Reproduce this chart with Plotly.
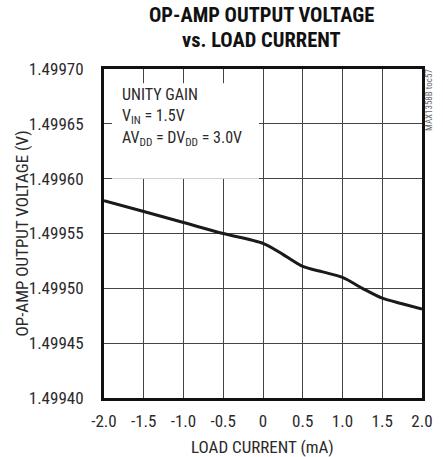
import plotly.graph_objects as go

# Load current sweep (mA) and measured op-amp output (V)
load_current = [-2.0, -1.5, -1.0, -0.5, 0.0, 0.25, 0.5, 0.75, 1.0, 1.25, 1.5, 1.75, 2.0]
output_voltage = [1.499580, 1.499570, 1.499560, 1.499550, 1.499541, 1.499531,
                  1.499520, 1.499515, 1.499510, 1.499500, 1.499491, 1.499486, 1.499481]

x_ticks = [-2.0, -1.5, -1.0, -0.5, 0.0, 0.5, 1.0, 1.5, 2.0]
x_tick_labels = ["-2.0", "-1.5", "-1.0", "-0.5", "0", "0.5", "1.0", "1.5", "2.0"]
y_ticks = [1.49940, 1.49945, 1.49950, 1.49955, 1.49960, 1.49965, 1.49970]
y_tick_labels = ["1.49940", "1.49945", "1.49950", "1.49955", "1.49960", "1.49965", "1.49970"]

FONT = "Liberation Sans Narrow, Roboto Condensed, Arial Narrow, sans-serif"
TXT = "#2a2a2a"

fig = go.Figure()
fig.add_trace(go.Scatter(
    x=load_current, y=output_voltage, mode="lines",
    line=dict(color="#1a1a1a", width=3, shape="spline", smoothing=0.8),
    hoverinfo="skip", showlegend=False,
))

# White panel behind the conditions text
fig.add_shape(type="rect", xref="x", yref="y", x0=-1.9, x1=-0.05,
              y0=1.499600, y1=1.499687, fillcolor="white", line_width=0, layer="above")

conditions = ["UNITY GAIN", "V<sub>IN</sub> = 1.5V",
              "AV<sub>DD</sub> = DV<sub>DD</sub> = 3.0V"]
for i, line in enumerate(conditions):
    fig.add_annotation(
        xref="paper", yref="paper", x=0.0, y=1.0, xanchor="left", yanchor="middle",
        xshift=16, yshift=-(25 + 22 * i), align="left", showarrow=False,
        text=line, font=dict(family=FONT, size=16, color=TXT),
    )

fig.add_annotation(
    xref="paper", yref="paper", x=1.0, y=1.0, xanchor="center", yanchor="top",
    xshift=7, yshift=2, showarrow=False, textangle=-90,
    text="MAX1358B toc57", font=dict(family=FONT, size=9, color="#666"),
)

# Two-line bold title
for txt, shift in [("OP-AMP OUTPUT VOLTAGE", 54), ("vs. LOAD CURRENT", 29)]:
    fig.add_annotation(
        xref="paper", yref="paper", x=(267 - 104) / 329, y=1.0,
        xanchor="center", yanchor="middle", yshift=shift, showarrow=False,
        text=f"<b>{txt}</b>", font=dict(family=FONT, size=20.5, color="#111"),
    )

# Axis titles
fig.add_annotation(
    xref="paper", yref="paper", x=(268 - 104) / 329, y=0.0,
    xanchor="center", yanchor="middle", yshift=-49, showarrow=False,
    text="LOAD CURRENT (mA)", font=dict(family=FONT, size=17, color=TXT),
)
fig.add_annotation(
    xref="paper", yref="paper", x=0.0, y=0.5, xanchor="center", yanchor="middle",
    xshift=-(104 - 21), showarrow=False, textangle=-90,
    text="OP-AMP OUTPUT VOLTAGE (V)", font=dict(family=FONT, size=17, color=TXT),
)

fig.update_layout(
    width=443, height=457,
    margin=dict(l=104, r=10, t=69, b=59),
    paper_bgcolor="white", plot_bgcolor="white",
    font=dict(family=FONT, size=17, color=TXT),
)

fig.update_xaxes(
    range=[-2.0, 2.0], tickvals=x_ticks, ticktext=x_tick_labels,
    showgrid=True, gridcolor="#444", gridwidth=1, zeroline=False,
    showline=True, linecolor="#111", linewidth=3, mirror=True, ticks="",
    ticklabelstandoff=6,
    tickfont=dict(family=FONT, size=17, color=TXT),
)
fig.update_yaxes(
    range=[1.49940, 1.49970], tickvals=y_ticks, ticktext=y_tick_labels,
    showgrid=True, gridcolor="#444", gridwidth=1, zeroline=False,
    showline=True, linecolor="#111", linewidth=3, mirror=True, ticks="",
    ticklabelstandoff=14,
    tickfont=dict(family=FONT, size=17, color=TXT),
)

fig.write_html("out.html")
